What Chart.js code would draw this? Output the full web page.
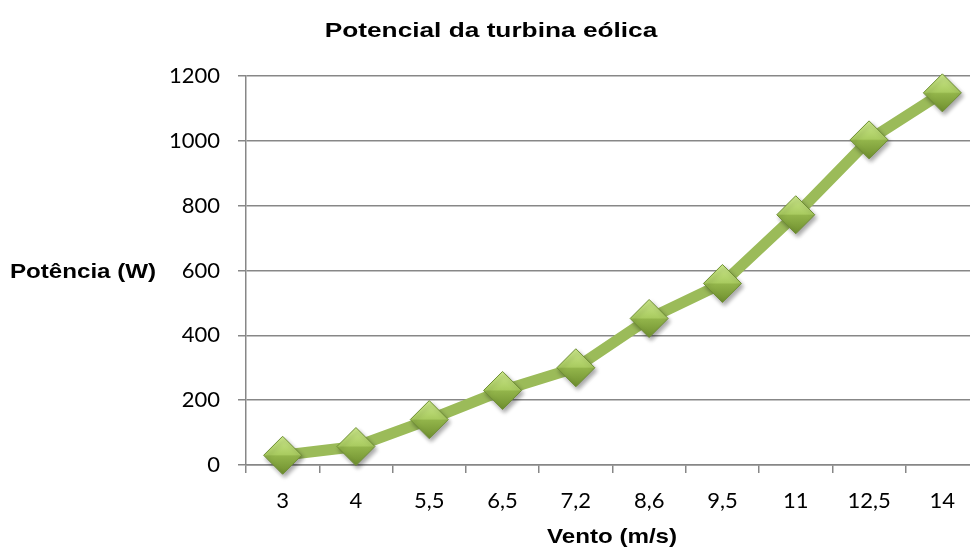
<!DOCTYPE html>
<html>
<head>
<meta charset="utf-8">
<script src="https://cdn.jsdelivr.net/npm/chart.js@4/dist/chart.umd.min.js"></script>
<style>
  html, body { margin: 0; padding: 0; background: #ffffff; overflow: hidden; }
  #wrap { width: 970px; height: 548px; position: relative; overflow: hidden; }
  #c { display: block; }
</style>
</head>
<body>
<div id="wrap"><canvas id="c" width="980" height="548"></canvas></div>
<script>
// ---- data ----
const categories = ['3', '4', '5,5', '6,5', '7,2', '8,6', '9,5', '11', '12,5', '14'];
const potencia = [30, 57, 140, 230, 300, 452, 560, 772, 1003, 1148];
const yTicks = [0, 200, 400, 600, 800, 1000, 1200];
const chartTitle = 'Potencial da turbina eólica';
const xTitle = 'Vento (m/s)';
const yTitle = 'Potência (W)';

const GRID = '#878787';
const GREEN = '#9bbb59';
const R = 19;

function markerFill(ctx) {
  const chart = ctx.chart;
  const y = chart.scales && chart.scales.y;
  if (ctx.type !== 'data' || !y || !chart.chartArea) return GREEN;
  const py = y.getPixelForValue(ctx.raw);
  const g = chart.ctx.createLinearGradient(0, py - R, 0, py + R);
  g.addColorStop(0, '#cde98c');
  g.addColorStop(0.48, '#a9cb60');
  g.addColorStop(0.52, '#92b44a');
  g.addColorStop(1, '#6f8f2f');
  return g;
}

function stretchedText(c, text, x, y, font, sx) {
  c.save();
  c.font = font;
  c.translate(x, y);
  c.scale(sx, 1);
  c.fillText(text, 0, 0);
  c.restore();
}

const textPlugin = {
  id: 'texts',
  afterDraw(chart) {
    const c = chart.ctx;
    c.save();
    c.fillStyle = '#000';
    c.textAlign = 'center';
    c.textBaseline = 'middle';
    stretchedText(c, chartTitle, 491, 31, 'bold 21px "Liberation Sans", Arial, sans-serif', 1.25);
    stretchedText(c, yTitle, 83, 272, 'bold 21px "Liberation Sans", Arial, sans-serif', 1.15);
    stretchedText(c, xTitle, 612, 537, 'bold 21px "Liberation Sans", Arial, sans-serif', 1.15);
    c.restore();
  }
};

const shadowPlugin = {
  id: 'markerShadow',
  beforeDatasetDraw(chart, args) {
    if (args.index === 0) {
      const c = chart.ctx;
      c.save();
      c.shadowColor = 'rgba(0,0,0,0.35)';
      c.shadowBlur = 4;
      c.shadowOffsetX = 2;
      c.shadowOffsetY = 3;
    }
  },
  afterDatasetDraw(chart, args) {
    if (args.index === 0) chart.ctx.restore();
  }
};

new Chart(document.getElementById('c'), {
  type: 'line',
  data: {
    labels: categories,
    datasets: [
      {
        label: 'markers',
        data: potencia,
        showLine: false,
        clip: false,
        pointStyle: 'rectRot',
        pointRadius: R,
        pointHoverRadius: R,
        pointBackgroundColor: markerFill,
        pointBorderColor: '#6f8f35',
        pointBorderWidth: 1
      },
      {
        label: 'line',
        data: potencia,
        clip: false,
        borderColor: GREEN,
        borderWidth: 11,
        pointRadius: 0,
        tension: 0,
        fill: false
      }
    ]
  },
  options: {
    responsive: false,
    animation: false,
    devicePixelRatio: 1,
    layout: { autoPadding: false, padding: { left: 170, top: 76, right: 1, bottom: 0 } },
    plugins: {
      legend: { display: false },
      title: { display: false },
      tooltip: { enabled: false }
    },
    scales: {
      x: {
        offset: true,
        grid: {
          offset: true,
          drawOnChartArea: false,
          drawTicks: true,
          tickLength: 8,
          color: GRID,
          lineWidth: 1.5
        },
        border: { display: true, color: GRID, width: 1.5 },
        ticks: {
          color: '#000',
          padding: 15,
          maxRotation: 0,
          autoSkip: false,
          font: { family: 'Lato', size: 22 }
        },
        title: { display: false },
        afterFit(scale) {
          scale.height = 83;
          scale.paddingLeft = 0;
          scale.paddingRight = 0;
        }
      },
      y: {
        min: 0,
        max: 1200,
        afterBuildTicks(scale) { scale.ticks = yTicks.map(v => ({ value: v })); },
        grid: {
          color: GRID,
          lineWidth: 1.5,
          drawTicks: true,
          tickLength: 8
        },
        border: { display: true, color: GRID, width: 1.5 },
        ticks: {
          color: '#000',
          padding: 18,
          font: { family: 'Lato', size: 22 },
          callback: (v) => String(v)
        },
        afterFit(scale) {
          scale.width = 76;
          scale.paddingTop = 0;
          scale.paddingBottom = 0;
        }
      }
    }
  },
  plugins: [textPlugin, shadowPlugin]
});
</script>
</body>
</html>
